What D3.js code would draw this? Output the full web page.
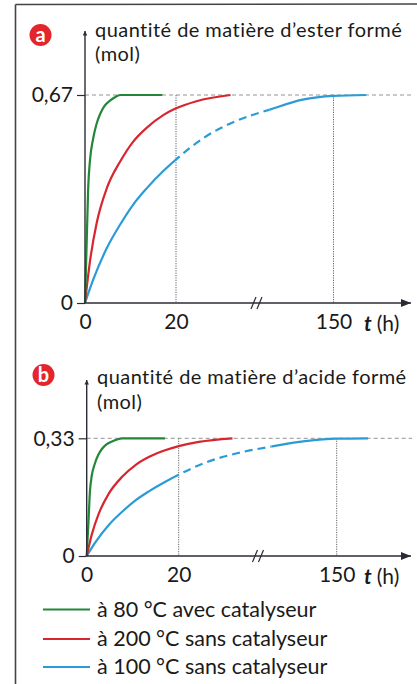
<!DOCTYPE html>
<html><head><meta charset="utf-8">
<script src="https://cdn.jsdelivr.net/npm/d3@7"></script>
<style>
html,body{margin:0;padding:0;background:#fff;}
svg{display:block;}
text{font-family:Lato,"Open Sans",sans-serif;fill:#1a1a1a;font-variant-ligatures:none;font-feature-settings:"liga" 0;}
</style></head>
<body>
<script>
// ---------- data ----------
const xTicks = [0, 20, 150];
const yTicksA = [0, 0.67];
const yTicksB = [0, 0.33];
const titleA = ["quantité de matière d’ester formé", "(mol)"];
const titleB = ["quantité de matière d’acide formé", "(mol)"];
const legendLabels = ["à 80 °C avec catalyseur", "à 200 °C sans catalyseur", "à 100 °C sans catalyseur"];

const greenT = [0, 0.4, 0.7, 1.1, 1.8, 2.5, 3.3, 4.3, 5.5, 6.5, 7.7, 17];
const greenA = [0, 0.21, 0.37, 0.46, 0.53, 0.575, 0.608, 0.635, 0.652, 0.662, 0.67, 0.67];
const greenB = [0, 0.10, 0.18, 0.225, 0.26, 0.283, 0.30, 0.313, 0.321, 0.326, 0.33, 0.33];

const redT = [0, 1.1, 2.6, 4.8, 7.7, 10.6, 13.6, 17.2, 20, 24.5, 32];
const redA = [0, 0.135, 0.26, 0.37, 0.455, 0.52, 0.565, 0.605, 0.627, 0.65, 0.67];
const redB = [0, 0.06, 0.118, 0.175, 0.222, 0.255, 0.278, 0.297, 0.308, 0.32, 0.33];

const blueT = [0, 1.8, 4.8, 7.7, 10.6, 13.6, 17.2, 20, 26, 33, 121, 136, 150, 165];
const blueA = [0, 0.075, 0.177, 0.252, 0.317, 0.37, 0.425, 0.462, 0.531, 0.585, 0.623, 0.655, 0.667, 0.67];
const blueB = [0, 0.037, 0.087, 0.124, 0.156, 0.182, 0.209, 0.228, 0.262, 0.288, 0.307, 0.322, 0.329, 0.33];
const blueDashed = [20, 121];   // part of the blue curve drawn dashed (t in h)
const xBreak = [37.7, 115];     // axis break

// ---------- style ----------
const W = 417, H = 684;
const colors = ["#23873a", "#d7262e", "#2b9bd8"];
const axisColor = "#2b2b35";
const fmt = d3.formatLocale({decimal: ",", thousands: " ", grouping: [3], currency: ["", ""]}).format(".2~f");

const svg = d3.select("body").append("svg").attr("width", W).attr("height", H);
const defs = svg.append("defs");
defs.append("marker").attr("id", "arrX").attr("viewBox", "0 0 10 8").attr("refX", 10).attr("refY", 4)
  .attr("markerWidth", 10).attr("markerHeight", 8).attr("markerUnits", "userSpaceOnUse").attr("orient", "auto")
  .append("path").attr("d", "M0,0 L10,4 L0,8 Z").attr("fill", axisColor);
defs.append("marker").attr("id", "arrY").attr("viewBox", "0 0 6 8").attr("refX", 6).attr("refY", 3)
  .attr("markerWidth", 6).attr("markerHeight", 6).attr("markerUnits", "userSpaceOnUse").attr("orient", "auto")
  .append("path").attr("d", "M0,0 L6,3 L0,6 Z").attr("fill", axisColor);

// frame
svg.append("line").attr("x1", 15.5).attr("x2", 15.5).attr("y1", 4.5).attr("y2", H).attr("stroke", "#444").attr("stroke-width", 1.6);
svg.append("line").attr("x1", 15.5).attr("x2", W).attr("y1", 4.5).attr("y2", 4).attr("stroke", "#444").attr("stroke-width", 1.6);

function panel(cfg) {
  const {letter, badge, title, titleX, titleY, xr, yr, yTop, yTicks, yMax, greenV, redV, blueV, id} = cfg;
  const g = svg.append("g");
  const x = d3.scaleLinear().domain([0, 20, xBreak[0], xBreak[1], 150, 186]).range(xr);
  const y = d3.scaleLinear().domain([0, yMax]).range(yr);
  const x0 = x(0), y0 = y(0), xEnd = xr[5] - 1;

  // badge
  g.append("circle").attr("cx", badge[0]).attr("cy", badge[1]).attr("r", 11).attr("fill", "#e3262b");
  g.append("text").attr("x", badge[0]).attr("y", badge[1] + 6.5).attr("text-anchor", "middle")
    .style("font-size", "20px").style("font-weight", "bold").style("fill", "#fff").text(letter);

  // title (two lines)
  title.forEach((t, i) => g.append("text").attr("x", titleX).attr("y", titleY[i])
    .style("font-size", "20px").style("letter-spacing", "0.45px").text(t));

  // reference lines
  g.append("line").attr("x1", x0).attr("x2", xEnd + 1).attr("y1", y(yMax)).attr("y2", y(yMax))
    .attr("stroke", "#888").attr("stroke-width", 0.9).attr("stroke-dasharray", "4,3");
  [20, 150].forEach(t => g.append("line").attr("x1", x(t)).attr("x2", x(t)).attr("y1", y(yMax)).attr("y2", y0)
    .attr("stroke", "#666").attr("stroke-width", 1).attr("stroke-dasharray", "1.2,1.2"));

  // curves
  const line = d3.line().x(d => x(d[0])).y(d => y(d[1])).curve(d3.curveMonotoneX);
  const gr = greenT.map((t, i) => [t, greenV[i]]);
  const rd = redT.map((t, i) => [t, redV[i]]);
  const bl = blueT.map((t, i) => [t, blueV[i]]);
  const xd0 = x(blueDashed[0]), xd1 = x(blueDashed[1]);
  defs.append("clipPath").attr("id", "solid" + id).call(c => {
    c.append("rect").attr("x", 0).attr("y", 0).attr("width", xd0).attr("height", H);
    c.append("rect").attr("x", xd1).attr("y", 0).attr("width", W - xd1).attr("height", H);
  });
  defs.append("clipPath").attr("id", "dash" + id).append("rect").attr("x", xd0).attr("y", 0).attr("width", xd1 - xd0).attr("height", H);
  g.append("path").attr("d", line(bl)).attr("fill", "none").attr("stroke", colors[2]).attr("stroke-width", 2.2).attr("clip-path", `url(#solid${id})`);
  g.append("path").attr("d", line(bl)).attr("fill", "none").attr("stroke", colors[2]).attr("stroke-width", 2.2)
    .attr("stroke-dasharray", "8,5").attr("clip-path", `url(#dash${id})`);
  g.append("path").attr("d", line(rd)).attr("fill", "none").attr("stroke", colors[1]).attr("stroke-width", 2.2);
  g.append("path").attr("d", line(gr)).attr("fill", "none").attr("stroke", colors[0]).attr("stroke-width", 2.2);

  // axes lines
  g.append("line").attr("x1", x0).attr("x2", xEnd).attr("y1", y0).attr("y2", y0)
    .attr("stroke", axisColor).attr("stroke-width", 1.4).attr("marker-end", "url(#arrX)");
  g.append("line").attr("x1", x0).attr("x2", x0).attr("y1", y0).attr("y2", yTop)
    .attr("stroke", axisColor).attr("stroke-width", 1.4).attr("marker-end", "url(#arrY)");
  // break mark
  const xb = x(xBreak[0]);
  [-3, 3].forEach(dx => g.append("line").attr("x1", xb + dx - 2.5).attr("y1", y0 + 6).attr("x2", xb + dx + 2.5).attr("y2", y0 - 6)
    .attr("stroke", axisColor).attr("stroke-width", 1.2));

  // axis tick labels
  const ax = g.append("g").attr("transform", `translate(0,${y0})`)
    .call(d3.axisBottom(x).tickValues(xTicks).tickSize(0).tickPadding(11).tickFormat(d3.format("d")));
  ax.select(".domain").remove();
  ax.selectAll("text").style("font-size", "21px").style("font-family", "Lato, sans-serif").attr("fill", "#1a1a1a");
  const ay = g.append("g").attr("transform", `translate(${x0},0)`)
    .call(d3.axisLeft(y).tickValues(yTicks).tickSize(8).tickPadding(4).tickFormat(d => d === 0 ? "0" : fmt(d)));
  ay.select(".domain").remove();
  ay.selectAll("line").attr("stroke", axisColor).attr("stroke-width", 1.2);
  ay.selectAll("text").style("font-size", "21px").style("font-family", "Lato, sans-serif").attr("fill", "#1a1a1a");

  // t (h)
  const tl = g.append("text").attr("x", xr[5] - 48).attr("y", y0 + 28).style("font-size", "21px");
  tl.append("tspan").style("font-style", "italic").style("font-weight", "bold").text("t");
  tl.append("tspan").attr("dx", 5).text("(h)");
}

panel({id: "a", letter: "a", badge: [40.5, 35], title: titleA, titleX: 95, titleY: [37, 61],
  xr: [85, 176, 256.5, 256.5, 333.5, 412], yr: [303, 95], yTop: 31, yTicks: yTicksA, yMax: 0.67,
  greenV: greenA, redV: redA, blueV: blueA});
panel({id: "b", letter: "b", badge: [43.5, 375], title: titleB, titleX: 97, titleY: [384, 408.5],
  xr: [86.7, 178.7, 258, 258, 336.7, 412], yr: [556, 438.3], yTop: 380, yTicks: yTicksB, yMax: 0.33,
  greenV: greenB, redV: redB, blueV: blueB});

// legend
const legY = [609.5, 639, 667];
legendLabels.forEach((l, i) => {
  svg.append("line").attr("x1", 43).attr("x2", 90).attr("y1", legY[i]).attr("y2", legY[i]).attr("stroke", colors[i]).attr("stroke-width", 1.8);
  svg.append("text").attr("x", 97).attr("y", legY[i] + 7).style("font-size", "21.5px").text(l);
});
</script>
</body></html>
